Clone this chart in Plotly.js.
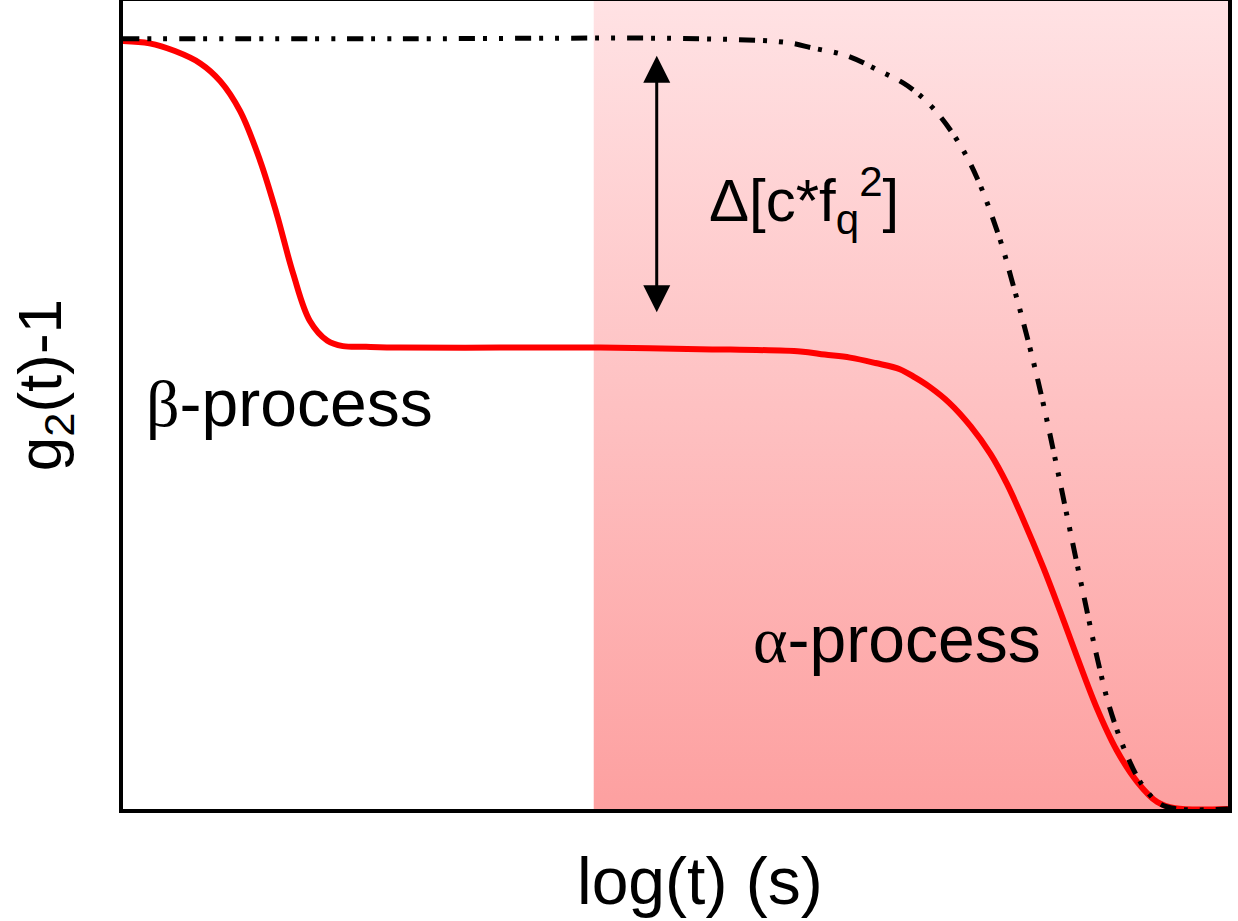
<!DOCTYPE html>
<html>
<head>
<meta charset="utf-8">
<script src="https://cdn.plot.ly/plotly-3.0.1.min.js"></script>
<style>
  body { margin: 0; background: #fff; }
  #plot { width: 1238px; height: 921px; }
</style>
</head>
<body>
<div id="plot"></div>
<script>
// red curve: beta decay to the plateau, then alpha decay
var redX = [0.00, 0.24, 0.47, 0.70, 0.88, 1.06, 1.24, 1.39, 1.54, 1.69, 1.85, 1.99, 2.20, 2.51, 3.41, 4.32, 5.22,
            6.13, 6.35, 6.58, 6.81, 7.03, 7.17, 7.30, 7.48, 7.67, 7.85, 8.00, 8.14, 8.33, 8.48, 8.63, 8.81, 8.99,
            9.18, 9.36, 9.52, 10.0];
var redY = [0.997, 0.994, 0.984, 0.968, 0.945, 0.906, 0.842, 0.773, 0.695, 0.634, 0.608, 0.601, 0.600, 0.599, 0.599, 0.599, 0.597,
            0.594, 0.590, 0.586, 0.579, 0.571, 0.560, 0.548, 0.527, 0.497, 0.461, 0.422, 0.378, 0.313, 0.257, 0.199, 0.132, 0.077,
            0.035, 0.009, 0.001, 0.0];

// black dash-dot curve: only the alpha decay
var blackX = [0.00, 2.51, 5.22, 6.01, 6.24, 6.55, 6.85, 7.10, 7.33, 7.55, 7.73, 7.94, 8.05, 8.14, 8.24, 8.33,
              8.45, 8.57, 8.69, 8.81, 8.93, 9.09, 9.23, 9.38, 9.54, 10.0];
var blackY = [1.000, 1.000, 1.000, 0.995, 0.988, 0.978, 0.958, 0.939, 0.910, 0.868, 0.819, 0.738, 0.683, 0.636, 0.580, 0.525,
              0.445, 0.362, 0.280, 0.200, 0.131, 0.068, 0.030, 0.007, 0.0, 0.0];

// shaded alpha region
var regionX = [4.26, 10, 10, 4.26, 4.26];
var regionY = [0, 0, 1.05, 1.05, 0];

var shade = {
  x: regionX, y: regionY,
  type: 'scatter', mode: 'lines',
  fill: 'toself',
  line: {width: 0, color: 'rgba(0,0,0,0)'},
  fillgradient: {
    type: 'vertical',
    colorscale: [[0, 'rgb(253,160,160)'], [1, 'rgb(255,226,228)']]
  },
  hoverinfo: 'skip', showlegend: false
};

var red = {
  x: redX, y: redY,
  type: 'scatter', mode: 'lines',
  line: {color: 'rgb(255,0,0)', width: 6, shape: 'spline', smoothing: 1},
  showlegend: false
};

var black = {
  x: blackX, y: blackY,
  type: 'scatter', mode: 'lines',
  line: {color: 'black', width: 5, shape: 'spline', smoothing: 1, dash: '16px,8px,4px,12px,4px,12px'},
  showlegend: false
};

var font = 'Liberation Sans, Arial, sans-serif';
var greek = '<span style="font-family:Liberation Serif">';

var layout = {
  width: 1238, height: 921,
  margin: {l: 123, r: 10, t: 1, b: 112},
  paper_bgcolor: 'white', plot_bgcolor: 'white',
  font: {family: font, color: 'black', size: 62},
  xaxis: {range: [0, 10], showgrid: false, zeroline: false, showticklabels: false, ticks: '',
          showline: true, mirror: true, linecolor: 'black', linewidth: 4},
  yaxis: {range: [0, 1.049], showgrid: false, zeroline: false, showticklabels: false, ticks: '',
          showline: true, mirror: true, linecolor: 'black', linewidth: 4},
  annotations: [
    {xref: 'paper', yref: 'paper', x: 0.522, y: -0.089, text: 'log(t) (s)', showarrow: false,
     xanchor: 'center', yanchor: 'middle', font: {size: 66}},
    {xref: 'paper', yref: 'paper', x: -0.072, y: 0.525, text: 'g<sub>2</sub>(t)-1', showarrow: false,
     textangle: -90, xanchor: 'center', yanchor: 'middle', font: {size: 62}},
    {xref: 'x', yref: 'y', x: 1.51, y: 0.527, text: greek + 'β</span>-process', showarrow: false,
     xanchor: 'center', yanchor: 'middle', font: {size: 66}},
    {xref: 'x', yref: 'y', x: 7.0, y: 0.221, text: greek + 'α</span>-process', showarrow: false,
     xanchor: 'center', yanchor: 'middle', font: {size: 66}},
    {xref: 'x', yref: 'y', x: 6.16, y: 0.79, text: 'Δ[c*f<sub>q</sub><sup>2</sup>]', showarrow: false,
     xanchor: 'center', yanchor: 'middle', font: {size: 60}},
    {xref: 'x', yref: 'y', x: 4.83, y: 0.978, axref: 'x', ayref: 'y', ax: 4.83, ay: 0.643,
     text: '', showarrow: true, arrowside: 'end+start', arrowhead: 2, arrowsize: 1.8,
     arrowwidth: 3, arrowcolor: 'black'}
  ]
};

Plotly.newPlot('plot', [shade, red, black], layout, {staticPlot: true});
</script>
</body>
</html>
